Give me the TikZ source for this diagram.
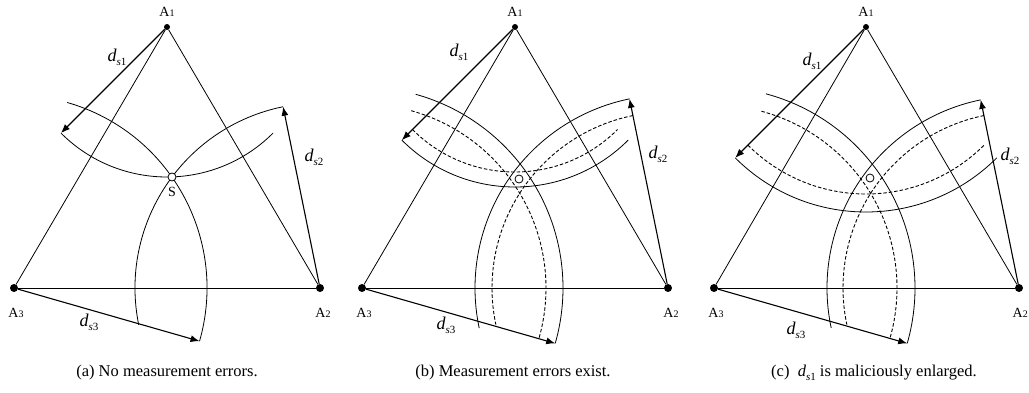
\documentclass[tikz,border=0pt]{standalone}
\usepackage{fontspec}
\setmainfont{Liberation Serif}
\usetikzlibrary{arrows.meta}
\newcommand{\idx}[1]{{\fontsize{10}{10}\selectfont #1}}
\newcommand{\dlab}[1]{\textit{d}\raisebox{-4pt}{\fontsize{11}{11}\selectfont\textit{s}#1}}

\begin{document}
\begin{tikzpicture}[x=1pt, y=1pt,
  every node/.style={font=\fontsize{14}{15}\selectfont},
  dot/.style={circle, fill=black, inner sep=0pt, minimum size=8pt},
  topdot/.style={circle, fill=black, inner sep=0pt, minimum size=6pt},
  edge/.style={line width=0.8pt},
  base/.style={line width=0.95pt},
  ring/.style={line width=0.8pt},
  band/.style={line width=0.9pt, dash pattern=on 3.5pt off 2pt},
  dist/.style={line width=1.1pt, -{Latex[length=9pt,width=7pt]}},
  dtext/.style={font=\fontsize{18}{19}\selectfont},
  capt/.style={font=\fontsize{16.5}{18}\selectfont}]
  \useasboundingbox (0,0) rectangle (1029,392);

  \begin{scope}[shift={(14,104)}]
    \node[topdot] (a1) at (153,261) {};
    \node[dot] (a2) at (306,0) {};
    \node[dot] (a3) at (0,0) {};
    \draw[edge] (a3) -- (a1) -- (a2);
    \draw[base] (a3) -- (a2);
    \draw[ring] (a1.center) ++(225:150) arc[start angle=225, end angle=315, radius=150];
    \draw[ring] (a2.center) ++(101.5:185) arc[start angle=101.5, end angle=191.5, radius=185];
    \draw[ring] (a3.center) ++(74:193) arc[start angle=74, end angle=-16, radius=193];
    \path (a1.center) ++(225:150) coordinate (t1);
    \path (a2.center) ++(101.5:185) coordinate (t2);
    \path (a3.center) ++(-16:193) coordinate (t3);
    \draw[dist] (a1) -- (t1);
    \draw[dist] (a2) -- (t2);
    \draw[dist] (a3) -- (t3);
    \node[circle, draw, fill=white, line width=0.8pt, inner sep=0pt, minimum size=8pt] (s) at (158,111) {};
    \node (sl) at (158,96) {S};
    \node (l1) at (153,276) {A\idx{1}};
    \node (l2) at (309,-25) {A\idx{2}};
    \node (l3) at (2,-25) {A\idx{3}};
    \node[dtext] (d1) at (103,231) {\dlab{1}};
    \node[dtext] (d2) at (300,131) {\dlab{2}};
    \node[dtext] (d3) at (75,-34) {\dlab{3}};
    \node[capt] (ca) at (153,-85) {(a) No measurement errors.};
  \end{scope}

  \begin{scope}[shift={(362,104)}]
    \node[topdot] (b1) at (153,261) {};
    \node[dot] (b2) at (306,0) {};
    \node[dot] (b3) at (0,0) {};
    \draw[edge] (b3) -- (b1) -- (b2);
    \draw[base] (b3) -- (b2);
    \draw[ring] (b1.center) ++(225:160) arc[start angle=225, end angle=315, radius=160];
    \draw[band] (b1.center) ++(225:145) arc[start angle=225, end angle=315, radius=145];
    \draw[ring] (b2.center) ++(101.5:193) arc[start angle=101.5, end angle=192, radius=193];
    \draw[band] (b2.center) ++(101.5:176) arc[start angle=101.5, end angle=192, radius=176];
    \draw[ring] (b3.center) ++(74.5:201) arc[start angle=74.5, end angle=-16, radius=201];
    \draw[band] (b3.center) ++(74.5:184) arc[start angle=74.5, end angle=-16, radius=184];
    \path (b1.center) ++(225:160) coordinate (u1);
    \path (b2.center) ++(101.5:193) coordinate (u2);
    \path (b3.center) ++(-16:201) coordinate (u3);
    \draw[dist] (b1) -- (u1);
    \draw[dist] (b2) -- (u2);
    \draw[dist] (b3) -- (u3);
    \node[circle, draw, fill=white, line width=0.8pt, inner sep=0pt, minimum size=8pt] (sb) at (157,109) {};
    \node (m1) at (153,276) {A\idx{1}};
    \node (m2) at (309,-25) {A\idx{2}};
    \node (m3) at (2,-25) {A\idx{3}};
    \node[dtext] (e1) at (97,236) {\dlab{1}};
    \node[dtext] (e2) at (296,134) {\dlab{2}};
    \node[dtext] (e3) at (84,-37) {\dlab{3}};
    \node[capt] (cb) at (151,-85) {(b) Measurement errors exist.};
  \end{scope}

  \begin{scope}[shift={(714,104)}]
    \node[topdot] (c1) at (152,261) {};
    \node[dot] (c2) at (305,0) {};
    \node[dot] (c3) at (0,0) {};
    \draw[edge] (c3) -- (c1) -- (c2);
    \draw[base] (c3) -- (c2);
    \draw[ring] (c1.center) ++(225:185) arc[start angle=225, end angle=315, radius=185];
    \draw[band] (c1.center) ++(225:167) arc[start angle=225, end angle=315, radius=167];
    \draw[ring] (c2.center) ++(101.5:192) arc[start angle=101.5, end angle=192, radius=192];
    \draw[band] (c2.center) ++(101.5:176) arc[start angle=101.5, end angle=192, radius=176];
    \draw[ring] (c3.center) ++(75:201) arc[start angle=75, end angle=-16, radius=201];
    \draw[band] (c3.center) ++(75:183) arc[start angle=75, end angle=-16, radius=183];
    \path (c1.center) ++(225:185) coordinate (v1);
    \path (c2.center) ++(101.5:192) coordinate (v2);
    \path (c3.center) ++(-16:201) coordinate (v3);
    \draw[dist] (c1) -- (v1);
    \draw[dist] (c2) -- (v2);
    \draw[dist] (c3) -- (v3);
    \node[circle, draw, fill=white, line width=0.8pt, inner sep=0pt, minimum size=8pt] (sc) at (156,110) {};
    \node (n1) at (152,276) {A\idx{1}};
    \node[anchor=east, inner sep=0pt] (n2) at (314,-25) {A\idx{2}};
    \node (n3) at (2,-25) {A\idx{3}};
    \node[dtext] (f1) at (98,227) {\dlab{1}};
    \node[dtext] (f2) at (296,132) {\dlab{2}};
    \node[dtext] (f3) at (82,-42) {\dlab{3}};
    \node[capt] (cc) at (160,-85) {(c)\ \ \dlab{1} is maliciously enlarged.};
  \end{scope}
\end{tikzpicture}
\end{document}
